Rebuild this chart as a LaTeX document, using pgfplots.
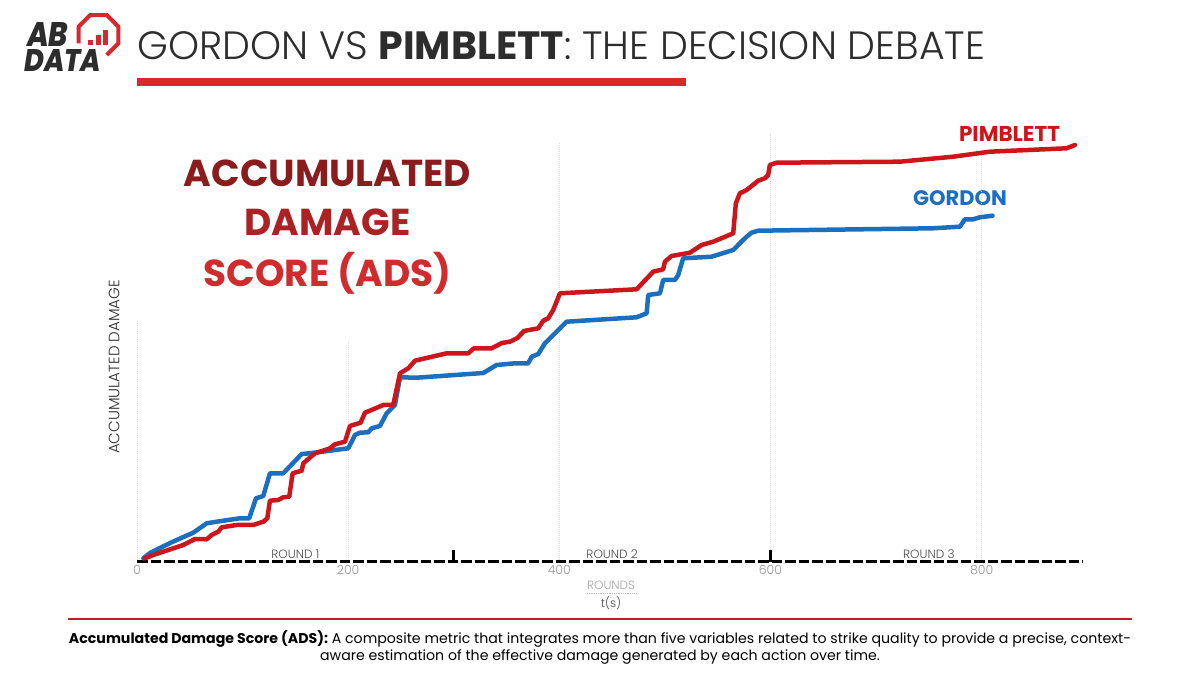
\documentclass[border=0pt]{standalone}
\usepackage{fontspec}
\usepackage{pgfplots}
\usepackage{pgfplotstable}
\usepackage{graphicx}
\pgfplotsset{compat=1.18}
\setmainfont{Poppins}
\IfFontExistsTF{Poppins Light}{\newfontfamily\light{Poppins Light}}{\newfontfamily\light{Poppins}}
\IfFontExistsTF{Poppins ExtraBold Italic}{\newfontfamily\logof{Poppins ExtraBold Italic}}{\newfontfamily\logof{Poppins Bold Italic}}
\definecolor{redA}{RGB}{214,40,46}
\definecolor{pim}{RGB}{204,22,28}
\definecolor{gor}{RGB}{28,110,190}
\definecolor{adsA}{RGB}{138,28,30}
\definecolor{adsB}{RGB}{172,34,36}
\definecolor{adsC}{RGB}{208,44,46}
\definecolor{dark}{RGB}{45,45,45}
\definecolor{tickgray}{RGB}{150,150,150}
\definecolor{gridc}{RGB}{225,225,225}

\pgfplotstableread{
x y
6.0 3.7
12.3 9
31.3 19
53.3 29.3
66.0 38.7
75.5 40.3
97.5 43.7
106.3 43.7
112.7 63.7
119.6 66
125.9 88.7
138.5 88.7
156 108
163.8 108.7
200.1 113.7
206.4 127
211.2 129.3
219 129.7
222.3 133.7
230.1 136
236.5 148.7
244.3 157
249.1 184.7
264.9 184.3
327.9 189
340.6 197
358 198.7
370.5 198.7
373.8 205.3
380 208
386.4 218.7
406.9 240.3
473.2 244.7
482.7 248.7
484.2 267
495.3 268.7
498.4 282
509.5 282
512.6 287
517.3 303.7
544.2 305.3
564.7 312
574.1 322
577.4 325.3
582.1 329.3
588.4 331.3
754 333.7
779.4 335.3
784.1 342.7
792 342.7
798.3 344.7
810.3 346.3
}\gordon

\pgfplotstableread{
x y
7.6 3.7
15.4 7
34.4 13.7
43.8 17
54.9 23
66 22.7
70.7 27
77 30.3
80.2 34.7
94.4 37
110.1 37
119.6 40.3
123.4 43.7
125.9 61.3
133.8 62
138.5 64.7
144.2 65.3
147.4 88.7
156 91.3
157.5 98.7
168.6 108.7
182.8 113.7
187.5 117.7
197 120.3
201.7 136
211.8 139.3
215.9 149.3
220.6 151.3
233.2 157
242.7 157
249.1 188.7
257 193.7
263.3 201.3
293.3 208.7
313.7 208.7
319.1 213.7
335.9 213.7
345.6 219
353.2 220.3
360.3 224
366.5 231
380 233.7
384.8 241.3
389.5 243.7
394.2 252
400.6 268.7
473.2 272.7
488.9 290.3
498.4 292.7
500 300.3
506.3 306
523.7 309.3
534.8 317
545.8 320.3
564.7 328.7
567.2 358.7
571 368.7
577.4 372
588.4 381.3
594.7 383.7
597.8 387
599.4 397
605.8 399.3
722.5 400.3
773 405.3
807.8 410.3
880.4 413.7
888.3 417
}\pimblett

\begin{document}
\begin{tikzpicture}[x=1pt,y=1pt]
\fill[white] (0,0) rectangle (1200,675);
\useasboundingbox (0,0) rectangle (1200,675);

% logo
\draw[redA, line width=4pt, line join=miter, shift={(98.5,640)}]
  (292.5:21.6) -- (337.5:21.6) -- (22.5:21.6) -- (67.5:21.6) -- (112.5:21.6) -- (157.5:21.6) -- (202.5:21.6);
\fill[redA] (88,630) rectangle (93,635);
\fill[redA] (95.5,630) rectangle (100.5,640);
\fill[redA] (103,630) rectangle (108,645);
\node[anchor=south west, inner sep=0, text=dark] at (27,628) {\resizebox{41pt}{24pt}{\logof AB}};
\node[anchor=south west, inner sep=0, text=dark] at (24,603) {\resizebox{77pt}{22pt}{\logof DATA}};

% title
\node[anchor=west, inner sep=0, text=dark] at (137,629) {\resizebox{848pt}{!}{\light GORDON VS {\normalfont\bfseries PIMBLETT}: THE DECISION DEBATE}};
\fill[redA] (137,589) rectangle (686,597);

% big ADS text
\node[anchor=base, inner sep=0, text=adsA] at (327.5,488) {\fontsize{37.5}{40}\selectfont\bfseries ACCUMULATED};
\node[anchor=base, inner sep=0, text=adsB] at (327.5,439) {\fontsize{37.5}{40}\selectfont\bfseries DAMAGE};
\node[anchor=base, inner sep=0, text=adsC] at (327.5,388) {\fontsize{37.5}{40}\selectfont\bfseries SCORE (ADS)};

% y label
\node[rotate=90, inner sep=0, text=dark] at (114,308) {\light\fontsize{15}{16}\selectfont ACCUMULATED DAMAGE};

% series labels
\node[anchor=base, inner sep=0, text=pim] at (1009.5,533) {\fontsize{21.5}{22}\selectfont\bfseries PIMBLETT};
\node[anchor=base, inner sep=0, text=gor] at (960,469) {\fontsize{21}{22}\selectfont\bfseries GORDON};

\begin{axis}[
  at={(137pt,113pt)}, anchor=south west, scale only axis,
  width=946pt, height=442pt,
  xmin=0, xmax=896, ymin=0, ymax=442,
  axis line style={draw=none},
  ytick=\empty,
  xtick={0,200,400,600,800},
  major tick length=0pt,
  xticklabel style={text=tickgray, font=\light\fontsize{12.5}{13}\selectfont, yshift=0pt},
  /pgf/number format/assume math mode=true,
  clip=false,
]
\draw[gridc, densely dotted, line width=1pt] (axis cs:0,0) -- (axis cs:0,242);
\draw[gridc, densely dotted, line width=1pt] (axis cs:200,0) -- (axis cs:200,222);
\draw[gridc, densely dotted, line width=1pt] (axis cs:400,0) -- (axis cs:400,420);
\draw[gridc, densely dotted, line width=1pt] (axis cs:600,0) -- (axis cs:600,429);
\draw[gridc, densely dotted, line width=1pt] (axis cs:800,0) -- (axis cs:800,409);
\draw[black, line width=3pt, dash pattern=on 10.5pt off 3pt] (axis cs:0,0) -- (axis cs:896,0);
\draw[black, line width=3pt] (axis cs:300,0) -- (axis cs:300,12);
\draw[black, line width=3pt] (axis cs:600,0) -- (axis cs:600,12);
\node[anchor=base, inner sep=0, text=dark!85] at (axis cs:150,3.5) {\light\fontsize{12}{13}\selectfont ROUND 1};
\node[anchor=base, inner sep=0, text=dark!85] at (axis cs:450,3.5) {\light\fontsize{12}{13}\selectfont ROUND 2};
\node[anchor=base, inner sep=0, text=dark!85] at (axis cs:750,3.5) {\light\fontsize{12}{13}\selectfont ROUND 3};
\addplot[gor, line width=4.5pt, line join=round, line cap=round] table[x=x,y=y] {\gordon};
\addplot[pim, line width=4.5pt, line join=round, line cap=round] table[x=x,y=y] {\pimblett};
\end{axis}

% axis titles
\node[inner sep=0, text=black!35] at (611,90) {\light\fontsize{12}{13}\selectfont ROUNDS};
\draw[black!25, densely dotted, line width=0.8pt] (587,82) -- (636,82);
\node[anchor=base, inner sep=0, text=dark!85] at (611,67) {\light\fontsize{12}{13}\selectfont t(s)};

% footer
\draw[redA!85!black, line width=2.5pt] (68,56) -- (1132,56);
\node[inner sep=0, text=black] at (600,27) {\resizebox{1062pt}{!}{\begin{tabular}{@{}c@{}}\textbf{Accumulated Damage Score (ADS):} A composite metric that integrates more than five variables related to strike quality to provide a precise, context-\\ aware estimation of the effective damage generated by each action over time.\end{tabular}}};
\end{tikzpicture}
\end{document}
